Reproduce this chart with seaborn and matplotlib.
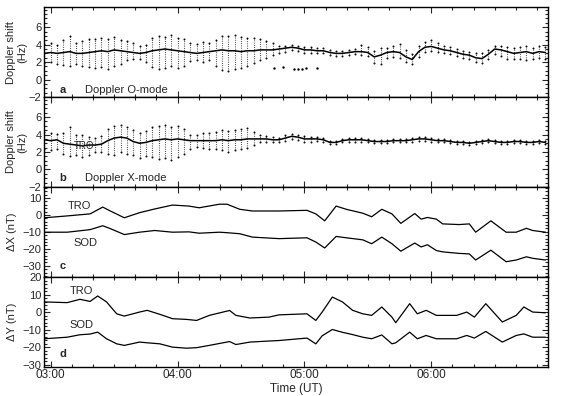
import numpy as np
import pandas as pd
import seaborn as sns
import matplotlib
matplotlib.use('Agg')
import matplotlib.pyplot as plt
from matplotlib.ticker import MultipleLocator

# Doppler data, 3-minute samples (decimal hours UT): centre of the cloud and its lower/upper edge
dop_time = [2.95 + 0.05 * i for i in range(80)]
o_mid = [3.0, 3.1, 3.0, 3.1, 3.2, 3.0, 3.0, 3.1, 3.2, 3.3, 3.2, 3.4, 3.3, 3.2, 3.1, 3.0, 3.1, 3.3, 3.4, 3.5,
         3.4, 3.3, 3.2, 3.1, 3.0, 3.1, 3.2, 3.3, 3.4, 3.3, 3.3, 3.2, 3.3, 3.3, 3.4, 3.4, 3.4, 3.5, 3.6, 3.7,
         3.6, 3.4, 3.4, 3.3, 3.3, 3.1, 3.0, 3.0, 3.1, 3.2, 3.2, 3.1, 2.6, 2.8, 3.1, 3.2, 3.1, 2.6, 2.3, 3.2,
         3.7, 3.8, 3.6, 3.4, 3.3, 3.1, 2.9, 2.8, 2.5, 2.4, 2.9, 3.5, 3.4, 3.2, 3.0, 3.1, 3.2, 3.0, 3.2, 3.1]
o_low = [1.9, 2.0, 1.8, 1.7, 1.6, 1.8, 1.5, 1.4, 1.3, 1.4, 1.2, 1.5, 1.8, 2.2, 2.3, 2.4, 2.0, 1.4, 1.2, 1.3,
         1.5, 1.3, 1.6, 2.1, 2.2, 2.0, 2.2, 1.6, 1.1, 1.0, 1.2, 1.3, 1.6, 1.9, 2.2, 2.5, 2.8, 3.0, 3.2, 3.4,
         3.3, 3.1, 3.1, 3.0, 3.0, 2.8, 2.7, 2.7, 2.8, 2.9, 2.8, 2.7, 1.9, 1.8, 2.5, 2.6, 2.5, 2.0, 1.8, 2.6,
         3.2, 3.3, 3.2, 3.0, 2.9, 2.7, 2.5, 2.3, 2.0, 1.9, 2.3, 2.9, 2.7, 2.4, 2.3, 2.3, 2.2, 2.3, 2.5, 2.4]
o_high = [4.1, 4.2, 4.0, 4.5, 5.0, 4.2, 4.4, 4.6, 4.7, 4.8, 4.6, 4.9, 4.5, 4.4, 4.2, 3.8, 4.0, 4.8, 5.0, 4.9,
          5.1, 4.8, 4.6, 4.2, 4.1, 4.3, 4.2, 4.5, 5.0, 5.0, 5.1, 4.9, 4.8, 4.8, 4.6, 4.4, 4.2, 3.9, 3.9, 4.0,
          3.9, 3.7, 3.7, 3.6, 3.6, 3.4, 3.3, 3.3, 3.4, 3.5, 4.0, 3.7, 3.3, 3.6, 3.6, 3.8, 4.1, 3.4, 2.9, 3.8,
          4.3, 4.5, 4.2, 3.8, 3.7, 3.5, 3.3, 3.2, 3.1, 3.0, 3.4, 3.9, 3.8, 3.7, 3.6, 3.7, 3.8, 3.6, 3.8, 3.7]
o_stray_time = [4.76, 4.83, 4.92, 4.95, 4.98, 5.01, 5.10]
o_stray_val = [1.3, 1.4, 1.2, 1.2, 1.25, 1.3, 1.3]

x_mid = [3.4, 3.3, 3.4, 3.0, 2.9, 2.8, 2.7, 2.8, 2.8, 2.9, 3.3, 3.6, 3.7, 3.6, 3.2, 3.0, 3.1, 3.3, 3.4, 3.5,
         3.4, 3.5, 3.4, 3.3, 3.3, 3.3, 3.3, 3.3, 3.4, 3.3, 3.4, 3.4, 3.5, 3.5, 3.5, 3.5, 3.4, 3.4, 3.6, 3.8,
         3.7, 3.5, 3.5, 3.5, 3.4, 3.1, 3.1, 3.3, 3.4, 3.4, 3.4, 3.3, 3.2, 3.2, 3.2, 3.3, 3.3, 3.3, 3.4, 3.5,
         3.5, 3.4, 3.3, 3.3, 3.2, 3.1, 3.1, 3.0, 3.1, 3.2, 3.3, 3.2, 3.1, 3.1, 3.2, 3.2, 3.1, 3.1, 3.2, 3.1]
x_low = [2.3, 2.2, 2.4, 1.8, 1.5, 1.6, 1.4, 1.6, 2.0, 2.0, 1.8, 1.7, 2.0, 1.8, 1.6, 1.3, 1.5, 1.4, 1.2, 1.3,
         1.1, 1.4, 1.8, 2.4, 2.6, 2.5, 2.4, 2.3, 2.2, 2.0, 2.2, 2.3, 2.5, 2.8, 3.1, 3.2, 3.2, 3.2, 3.3, 3.5,
         3.4, 3.2, 3.2, 3.3, 3.2, 2.9, 2.9, 3.1, 3.2, 3.2, 3.2, 3.1, 3.0, 3.0, 3.0, 3.1, 3.1, 3.1, 3.2, 3.3,
         3.3, 3.2, 3.1, 3.1, 3.0, 2.9, 2.9, 2.8, 2.9, 3.0, 3.1, 3.0, 2.9, 2.9, 3.0, 3.0, 2.9, 2.9, 3.0, 2.9]
x_high = [4.3, 4.2, 4.1, 4.2, 4.9, 4.0, 3.9, 3.7, 3.6, 3.8, 4.6, 5.0, 5.1, 4.9, 4.5, 4.2, 4.4, 4.9, 5.0, 5.1,
          4.9, 5.0, 4.6, 4.0, 3.9, 4.2, 4.2, 4.3, 4.5, 4.4, 4.5, 4.6, 4.8, 4.3, 3.9, 3.8, 3.7, 3.6, 3.9, 4.1,
          4.0, 3.8, 3.7, 3.7, 3.6, 3.3, 3.3, 3.5, 3.6, 3.6, 3.6, 3.5, 3.4, 3.4, 3.4, 3.5, 3.5, 3.5, 3.6, 3.7,
          3.7, 3.6, 3.5, 3.5, 3.4, 3.3, 3.3, 3.2, 3.3, 3.4, 3.5, 3.4, 3.3, 3.3, 3.4, 3.4, 3.3, 3.3, 3.4, 3.3]

# Magnetometer deviations (nT)
dx_time = [2.95, 3.13, 3.31, 3.41, 3.47, 3.58, 3.70, 3.82, 3.96, 4.09, 4.17, 4.33, 4.39, 4.49, 4.59, 4.80,
           5.02, 5.09, 5.16, 5.25, 5.33, 5.46, 5.53, 5.61, 5.69, 5.76, 5.87, 5.92, 5.97, 6.04, 6.09, 6.22,
           6.30, 6.35, 6.47, 6.59, 6.67, 6.75, 6.80, 6.90]
dx_tro = [-1.7, -0.6, 0.6, 4.6, 2.3, -1.7, 1.3, 3.5, 5.8, 5.2, 4.2, 6.3, 6.3, 3.3, 2.3, 2.3,
          2.7, 0.6, -3.5, 5.2, 3.3, 1.0, -1.1, 3.3, 0.6, -5.0, 0.8, -2.5, -1.5, -2.5, -5.3, -5.7,
          -5.3, -10.2, -3.5, -10.2, -10.2, -7.9, -9.2, -10.2]
dx_sod = [-10.2, -10.2, -8.7, -6.4, -8.1, -11.6, -10.2, -9.2, -10.2, -10.0, -10.8, -10.2, -10.5, -11.1, -13.1, -14.0,
          -13.5, -16.0, -19.5, -12.7, -13.5, -14.7, -17.0, -13.1, -17.0, -21.4, -16.6, -18.9, -17.6, -21.0, -21.8, -22.7,
          -23.0, -26.6, -20.8, -27.6, -26.6, -24.7, -25.6, -26.6]

dy_time = [2.95, 3.13, 3.23, 3.31, 3.37, 3.44, 3.52, 3.58, 3.70, 3.76, 3.86, 3.96, 4.07, 4.15, 4.25, 4.41,
           4.46, 4.57, 4.72, 4.80, 5.02, 5.09, 5.14, 5.22, 5.30, 5.38, 5.46, 5.53, 5.61, 5.69, 5.72, 5.83,
           5.89, 5.96, 6.04, 6.20, 6.28, 6.34, 6.43, 6.56, 6.67, 6.73, 6.80, 6.90]
dy_tro = [5.9, 5.5, 7.4, 6.2, 9.3, 5.9, -0.9, -2.2, 0.1, 1.1, -1.2, -3.7, -4.1, -4.7, -1.8, 1.0,
          -1.8, -3.3, -2.8, -1.5, -0.9, -4.7, 0.1, 8.7, 5.9, 1.1, -0.9, -1.8, 3.0, -2.8, -6.0, 4.9,
          -0.9, 1.1, -1.8, -1.8, 0.1, -2.8, 4.9, -5.6, -1.8, 3.0, 0.1, -0.3]
dy_sod = [-15.2, -14.3, -12.9, -12.5, -11.4, -15.2, -18.1, -19.0, -17.1, -17.5, -18.1, -20.0, -20.6, -20.3, -19.0, -16.8,
          -18.5, -17.1, -16.5, -16.2, -14.8, -18.1, -13.5, -9.9, -11.5, -12.8, -14.3, -15.2, -13.0, -18.1, -17.5, -11.4,
          -15.2, -13.3, -15.2, -15.2, -13.3, -14.8, -11.0, -17.1, -13.3, -12.4, -14.3, -14.3]

hour_ticks = [3, 4, 5, 6]
hour_labels = ['03:00', '04:00', '05:00', '06:00']

sns.set_style('ticks')
plt.rcParams['font.family'] = ['Liberation Sans', 'DejaVu Sans']
plt.rcParams['xtick.direction'] = 'in'
plt.rcParams['ytick.direction'] = 'in'

fig, axes = plt.subplots(4, 1, figsize=(5.62, 3.96), dpi=100, sharex=True)
fig.subplots_adjust(left=0.079, right=0.975, top=0.982, bottom=0.074, hspace=0)

dop_a = pd.DataFrame({'t': dop_time, 'mid': o_mid, 'low': o_low, 'high': o_high})
dop_b = pd.DataFrame({'t': dop_time, 'mid': x_mid, 'low': x_low, 'high': x_high})

for ax, d in [(axes[0], dop_a), (axes[1], dop_b)]:
    ax.vlines(d['t'], d['low'], d['high'], color='#222222', linewidth=0.8, linestyles=(0, (0.7, 1.3)))
    sns.lineplot(data=d, x='t', y='mid', ax=ax, color='black', linewidth=1.1)
    sns.scatterplot(data=d, x='t', y='high', ax=ax, color='black', s=2, linewidth=0)
    sns.scatterplot(data=d, x='t', y='low', ax=ax, color='black', s=2, linewidth=0)
sns.scatterplot(x=o_stray_time, y=o_stray_val, ax=axes[0], color='black', s=3, linewidth=0)

sns.lineplot(x=dx_time, y=dx_tro, ax=axes[2], color='black', linewidth=0.9)
sns.lineplot(x=dx_time, y=dx_sod, ax=axes[2], color='black', linewidth=0.9)
sns.lineplot(x=dy_time, y=dy_tro, ax=axes[3], color='black', linewidth=0.9)
sns.lineplot(x=dy_time, y=dy_sod, ax=axes[3], color='black', linewidth=0.9)

fs = 8
axes[0].set_ylim(-2, 8.3)
axes[1].set_ylim(-2, 8.3)
axes[2].set_ylim(-36.5, 16.5)
axes[3].set_ylim(-31.2, 20.3)
axes[0].set_yticks([-2, 0, 2, 4, 6])
axes[1].set_yticks([-2, 0, 2, 4, 6])
axes[2].set_yticks([-30, -20, -10, 0, 10])
axes[3].set_yticks([-30, -20, -10, 0, 10, 20])
for ax in axes[:2]:
    ax.yaxis.set_minor_locator(MultipleLocator(0.5))
for ax in axes[2:]:
    ax.yaxis.set_minor_locator(MultipleLocator(2))

for ax in axes:
    ax.set_xlim(2.95, 6.92)
    ax.set_xticks(hour_ticks)
    ax.xaxis.set_minor_locator(MultipleLocator(1 / 6))
    ax.tick_params(which='both', top=True, right=True, direction='in', labelsize=fs, width=0.8, pad=2)
    ax.tick_params(which='major', length=4)
    ax.tick_params(which='minor', length=2.5)
    for s in ax.spines.values():
        s.set_linewidth(1.0)
        s.set_color('black')
    ax.set_xlabel('')

axes[3].set_xticklabels(hour_labels, fontsize=8.5)
axes[3].set_xlabel('Time (UT)', fontsize=8.5, labelpad=1)

axes[0].set_ylabel('Doppler shift\n(Hz)', fontsize=fs, linespacing=1.1)
axes[1].set_ylabel('Doppler shift\n(Hz)', fontsize=fs, linespacing=1.1)
axes[2].set_ylabel('ΔX (nT)', fontsize=fs)
axes[3].set_ylabel('ΔY (nT)', fontsize=fs)
for ax in axes[:2]:
    ax.yaxis.set_label_coords(-0.034, 0.5)
for ax in axes[2:]:
    ax.yaxis.set_label_coords(-0.055, 0.5)

axes[0].text(3.07, -1.25, 'a', fontsize=fs, fontweight='bold', va='center')
axes[0].text(3.27, -1.25, 'Doppler O-mode', fontsize=fs, va='center')
axes[1].text(3.07, -1.0, 'b', fontsize=fs, fontweight='bold', va='center')
axes[1].text(3.27, -1.0, 'Doppler X-mode', fontsize=fs, va='center')
axes[1].text(3.26, 2.7, 'TRO', fontsize=7, va='center', ha='center')
axes[2].text(3.23, 5.2, 'TRO', fontsize=fs, va='center', ha='center')
axes[2].text(3.27, -16.8, 'SOD', fontsize=fs, va='center', ha='center')
axes[2].text(3.07, -30, 'c', fontsize=fs, fontweight='bold', va='center')
axes[3].text(3.24, 12.4, 'TRO', fontsize=fs, va='center', ha='center')
axes[3].text(3.24, -7.2, 'SOD', fontsize=fs, va='center', ha='center')
axes[3].text(3.07, -24, 'd', fontsize=fs, fontweight='bold', va='center')

plt.savefig('out.png', dpi=100)
